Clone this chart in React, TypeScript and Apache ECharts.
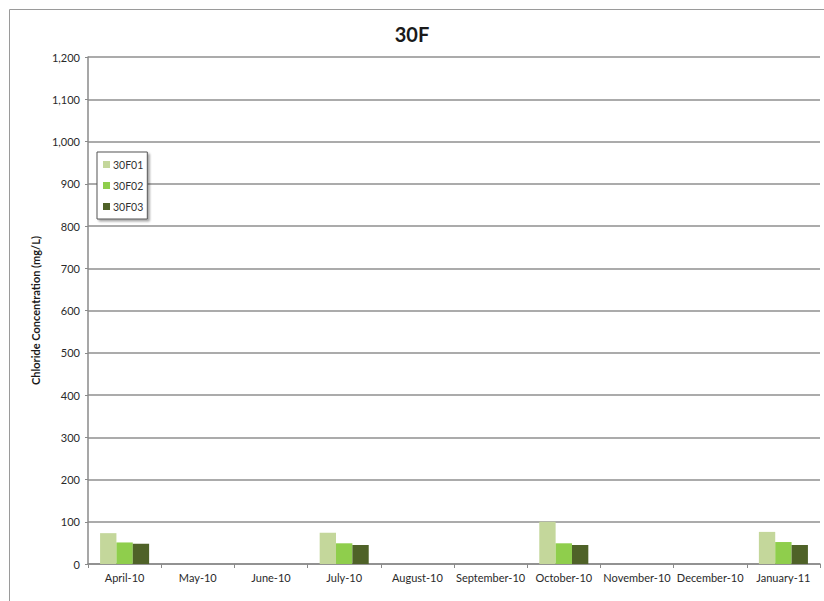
import React, { useEffect, useRef } from "react";
import * as echarts from "echarts";

const categories = [
  "April-10", "May-10", "June-10", "July-10", "August-10",
  "September-10", "October-10", "November-10", "December-10", "January-11",
];
const s30F01 = [73, null, null, 74, null, null, 100, null, null, 76];
const s30F02 = [51, null, null, 49, null, null, 49, null, null, 52];
const s30F03 = [48, null, null, 45, null, null, 45, null, null, 45];
const seriesNames = ["30F01", "30F02", "30F03"];
const colors = ["#c4d79b", "#8fce4c", "#4f6228"];

const FONT = "Lato, 'Open Sans', sans-serif";

export default function App() {
  const ref = useRef<HTMLDivElement>(null);
  useEffect(() => {
    document.body.style.margin = "0";
    const chart = echarts.init(ref.current!, null, { renderer: "svg" });
    const data = [s30F01, s30F02, s30F03];
    chart.setOption({
      animation: false,
      backgroundColor: "#ffffff",
      textStyle: { fontFamily: FONT },
      title: {
        text: "30F",
        left: "center",
        top: 19,
        textStyle: { fontSize: 20, fontWeight: "bold", color: "#1a1a1a", fontFamily: FONT },
      },
      graphic: [
        {
          type: "rect",
          shape: { x: 9.5, y: 9.5, width: 840, height: 620 },
          style: { fill: "none", stroke: "#9a9a9a", lineWidth: 1 },
          silent: true,
        },
      ],
      legend: {
        orient: "vertical",
        left: 97,
        top: 152,
        data: seriesNames,
        itemWidth: 7,
        itemHeight: 7,
        itemGap: 10,
        padding: [7, 4, 7, 6],
        backgroundColor: "#ffffff",
        borderColor: "#555555",
        borderWidth: 1,
        shadowColor: "rgba(0,0,0,0.35)",
        shadowBlur: 2,
        shadowOffsetX: 2,
        shadowOffsetY: 2,
        icon: "rect",
        textStyle: { fontSize: 10.5, color: "#333", fontFamily: FONT, padding: [0, 0, 0, -2] },
      },
      grid: { left: 88, right: 4, top: 57, bottom: 37, containLabel: false },
      xAxis: {
        type: "category",
        data: categories,
        boundaryGap: true,
        axisLine: { lineStyle: { color: "#8a8a8a", width: 1.5 } },
        axisTick: { show: true, interval: 0, length: 4, lineStyle: { color: "#8a8a8a" } },
        axisLabel: { interval: 0, fontSize: 11, color: "#2a2a2a", margin: 8, fontFamily: FONT },
      },
      yAxis: {
        type: "value",
        min: 0,
        max: 1200,
        interval: 100,
        name: "Chloride Concentration (mg/L)",
        nameLocation: "middle",
        nameGap: 46,
        nameTextStyle: { fontSize: 11, fontWeight: "bold", color: "#1a1a1a", fontFamily: FONT },
        axisLine: { show: true, lineStyle: { color: "#8a8a8a", width: 1.5 } },
        axisTick: { show: true, length: 3, lineStyle: { color: "#8a8a8a" } },
        axisLabel: {
          fontSize: 11,
          color: "#2a2a2a",
          margin: 8,
          fontFamily: FONT,
          formatter: (v: number) => v.toLocaleString("en-US"),
        },
        splitLine: { lineStyle: { color: "#8f8f8f", width: 1.5 } },
      },
      series: seriesNames.map((name, i) => ({
        name,
        type: "bar",
        data: data[i],
        barGap: "0%",
        barCategoryGap: "33%",
        itemStyle: { color: colors[i] },
      })),
    });
    return () => chart.dispose();
  }, []);
  return (
    <div
      ref={ref}
      style={{ position: "absolute", left: 0, top: 0, width: 824, height: 601 }}
    />
  );
}
